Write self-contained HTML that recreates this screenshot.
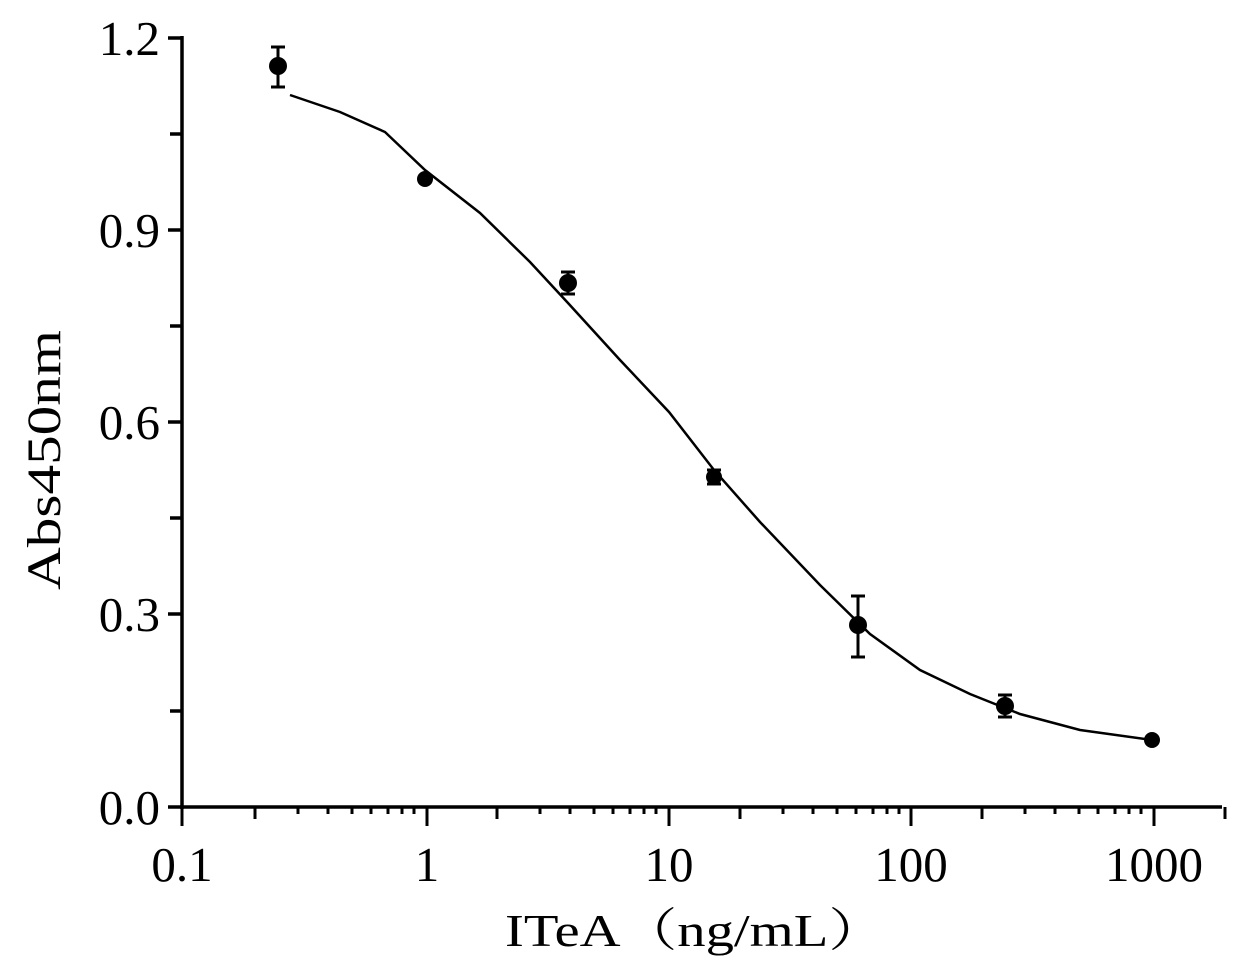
<!DOCTYPE html>
<html><head><meta charset="utf-8"><style>body{margin:0;background:#fff}svg{display:block}</style></head>
<body>
<svg width="1239" height="977" viewBox="0 0 1239 977" xmlns="http://www.w3.org/2000/svg" font-family="Liberation Serif, serif" fill="#000">
<g stroke="#000" stroke-width="3.5" fill="none">
<line x1="182" y1="36" x2="182" y2="809"/>
<line x1="180" y1="807" x2="1222" y2="807"/>
<line x1="168" y1="38" x2="182" y2="38"/>
<line x1="170" y1="134" x2="182" y2="134"/>
<line x1="168" y1="230" x2="182" y2="230"/>
<line x1="170" y1="326" x2="182" y2="326"/>
<line x1="168" y1="422" x2="182" y2="422"/>
<line x1="170" y1="518" x2="182" y2="518"/>
<line x1="168" y1="614" x2="182" y2="614"/>
<line x1="170" y1="711" x2="182" y2="711"/>
<line x1="168" y1="807" x2="182" y2="807"/>
</g>
<g stroke="#000" stroke-width="3">
<line x1="182" y1="807" x2="182" y2="826"/>
<line x1="427" y1="807" x2="427" y2="826"/>
<line x1="669" y1="807" x2="669" y2="826"/>
<line x1="911" y1="807" x2="911" y2="826"/>
<line x1="1154" y1="807" x2="1154" y2="826"/>
<path d="M255 807v12M298 807v7M328 807v7M352 807v7M371 807v7M388 807v7M402 807v7M414 807v7
M497 807v12M540 807v7M570 807v7M594 807v7M613 807v7M630 807v7M644 807v7M656 807v7
M740 807v12M783 807v7M813 807v7M837 807v7M856 807v7M873 807v7M887 807v7M899 807v7
M982 807v12M1025 807v7M1055 807v7M1079 807v7M1098 807v7M1115 807v7M1129 807v7M1141 807v7
M1225 807v12"/>
</g>
<g font-size="49" text-anchor="end">
<text x="160" y="55">1.2</text>
<text x="160" y="247">0.9</text>
<text x="160" y="439">0.6</text>
<text x="160" y="631">0.3</text>
<text x="160" y="824">0.0</text>
</g>
<g font-size="49" text-anchor="middle">
<text x="182" y="881">0.1</text>
<text x="427" y="881">1</text>
<text x="669" y="881">10</text>
<text x="911" y="881">100</text>
<text x="1154" y="881">1000</text>
</g>
<text x="505" y="946" font-size="46" textLength="380" lengthAdjust="spacingAndGlyphs" font-family="Liberation Serif, 'Noto Serif CJK SC', serif">ITeA（ng/mL）</text>
<text transform="translate(60,590) rotate(-90)" font-size="48" textLength="260" lengthAdjust="spacingAndGlyphs">Abs450nm</text>
<polyline fill="none" stroke="#000" stroke-width="2.5" points="290,95 340,112 385,132 425,170 480,213 530,262 568,303 620,360 669,412 714,470 760,522 820,585 870,634 920,670 970,694 1020,714 1080,730 1152,740"/>
<g stroke="#000" stroke-width="3">
<path d="M278 47v40M271 47h14M271 87h14"/>
<path d="M568 272v22M561 272h14M561 294h14"/>
<path d="M858 596v61M851 596h14M851 657h14"/>
<path d="M1005 695v22M998 695h14M998 717h14"/>
<path d="M714 470v14M707 470h14M707 484h14"/>
</g>
<g>
<circle cx="278" cy="66" r="9"/>
<circle cx="425" cy="179" r="8"/>
<circle cx="568" cy="283" r="9"/>
<circle cx="714" cy="477" r="8"/>
<circle cx="858" cy="625" r="9"/>
<circle cx="1005" cy="706" r="9"/>
<circle cx="1152" cy="740" r="8"/>
</g>
</svg>
</body></html>
